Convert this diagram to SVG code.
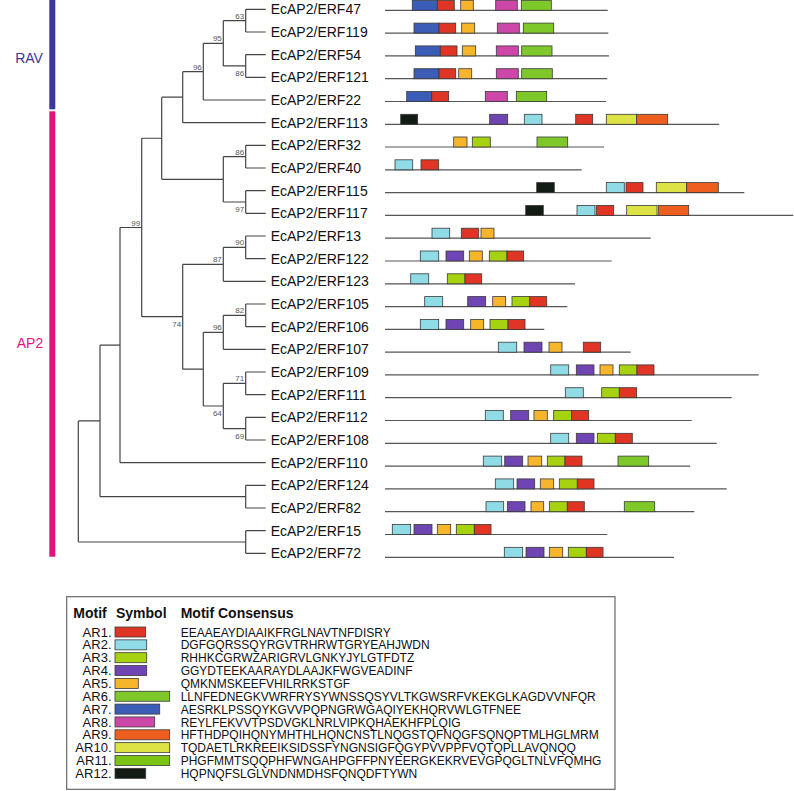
<svg xmlns="http://www.w3.org/2000/svg" width="794" height="791" viewBox="0 0 794 791">
<style>
text{font-family:"Liberation Sans",Arial,sans-serif}
.lb{font-size:14px;fill:#111}
.bs{font-size:8px;fill:#555;text-anchor:end}
.ln{stroke:#555;stroke-width:1.2;fill:none}
.tr{stroke:#444;stroke-width:1.2;fill:none}
rect.m{stroke:#3a3a3a;stroke-width:0.8}
.m1{fill:#e03424}.m2{fill:#8fdbe6}.m3{fill:#a6d20f}.m4{fill:#6e45b3}.m5{fill:#f7b52c}.m6{fill:#7ec82a}
.m7{fill:#3b5db8}.m8{fill:#cc47a8}.m9{fill:#ee5f1f}.m10{fill:#dde344}.m11{fill:#7cc414}.m12{fill:#131c14}
.hd{font-size:14px;font-weight:bold;fill:#111}
.ar{font-size:13px;fill:#111;text-anchor:end}
.cs{font-size:12px;fill:#111}
</style>

<g id="clades">
<rect x="49.3" y="0" width="6" height="109.3" fill="#3d35a0"/>
<rect x="49.3" y="111.3" width="6" height="445.4" fill="#e3127f"/>
<text x="29" y="62.7" font-size="14" fill="#3d35a0" text-anchor="middle">RAV</text>
<text x="30" y="348.3" font-size="14" fill="#e3127f" text-anchor="middle">AP2</text>
</g>

<g id="connectors">
<path class="tr" d="M245.7,9.3V32M245.7,54.6V77.3M245.7,145.3V168M245.7,190.7V213.3M245.7,236V258.7M245.7,304V326.7M245.7,372V394.7M245.7,417.3V440M245.7,485.3V508M245.7,530.7V553.3
M223.3,20.65V65.95M223.3,156.65V202M223.3,247.35V281.3M223.3,315.35V349.3M223.3,383.35V428.65
M203.3,43.3V100M203.3,332.3V406M182.7,71.65V122.7M182.7,264.3V369.15M161.7,97.2V179.3M141.7,138.25V316.7M120,227.5V462.7M100,345.1V496.65M78.3,420.9V542
M245.7,9.3H265.7M245.7,32H265.7M245.7,54.6H265.7M245.7,77.3H265.7M203.3,100H265.7M182.7,122.7H265.7
M245.7,145.3H265.7M245.7,168H265.7M245.7,190.7H265.7M245.7,213.3H265.7M245.7,236H265.7M245.7,258.7H265.7M223.3,281.3H265.7
M245.7,304H265.7M245.7,326.7H265.7M223.3,349.3H265.7M245.7,372H265.7M245.7,394.7H265.7M245.7,417.3H265.7M245.7,440H265.7
M120,462.7H265.7M245.7,485.3H265.7M245.7,508H265.7M245.7,530.7H265.7M245.7,553.3H265.7
M223.3,20.65H245.7M223.3,65.95H245.7M203.3,43.3H223.3M182.7,71.65H203.3M161.7,97.2H182.7
M223.3,156.65H245.7M223.3,202H245.7M161.7,179.3H223.3M141.7,138.25H161.7
M223.3,247.35H245.7M182.7,264.3H223.3M223.3,315.35H245.7M203.3,332.3H223.3
M223.3,383.35H245.7M223.3,428.65H245.7M203.3,406H223.3M182.7,369.15H203.3M141.7,316.7H182.7
M120,227.5H141.7M100,345.1H120M100,496.65H245.7M78.3,420.9H100M78.3,542H245.7"/>
<text class="bs" x="244.2" y="18.6">63</text>
<text class="bs" x="221.8" y="41.3">95</text>
<text class="bs" x="244.2" y="76">86</text>
<text class="bs" x="201.8" y="69.6">96</text>
<text class="bs" x="244.2" y="154.6">86</text>
<text class="bs" x="244.2" y="211.5">97</text>
<text class="bs" x="140.2" y="225.5">99</text>
<text class="bs" x="244.2" y="245.3">90</text>
<text class="bs" x="221.8" y="262.3">87</text>
<text class="bs" x="244.2" y="313.3">82</text>
<text class="bs" x="221.8" y="330.3">96</text>
<text class="bs" x="181.2" y="326.7">74</text>
<text class="bs" x="244.2" y="381.3">71</text>
<text class="bs" x="221.8" y="416">64</text>
<text class="bs" x="244.2" y="438.7">69</text>
</g>

<g id="erf47"><text class="lb" x="270.7" y="14.3">EcAP2/ERF47</text><path class="ln" d="M385,10.3H607.7"/>
<rect class="m m7" x="412.3" y="0.3" width="25" height="10"/><rect class="m m1" x="437.3" y="0.3" width="17" height="10"/><rect class="m m5" x="460.7" y="0.3" width="12.6" height="10"/><rect class="m m8" x="495.7" y="0.3" width="21.6" height="10"/><rect class="m m6" x="521.3" y="0.3" width="30" height="10"/></g>
<g id="erf119"><text class="lb" x="270.7" y="37">EcAP2/ERF119</text><path class="ln" d="M385,33.1H608.3"/>
<rect class="m m7" x="414" y="23.1" width="25" height="10"/><rect class="m m1" x="439" y="23.1" width="16.7" height="10"/><rect class="m m5" x="461.7" y="23.1" width="13" height="10"/><rect class="m m8" x="497.3" y="23.1" width="22" height="10"/><rect class="m m6" x="523.3" y="23.1" width="30.4" height="10"/></g>
<g id="erf54"><text class="lb" x="270.7" y="59.6">EcAP2/ERF54</text><path class="ln" d="M385,55.9H609"/>
<rect class="m m7" x="415.3" y="45.9" width="25" height="10"/><rect class="m m1" x="440.3" y="45.9" width="16.7" height="10"/><rect class="m m5" x="462.3" y="45.9" width="13.4" height="10"/><rect class="m m8" x="496.3" y="45.9" width="22" height="10"/><rect class="m m6" x="521.7" y="45.9" width="30.3" height="10"/></g>
<g id="erf121"><text class="lb" x="270.7" y="82.3">EcAP2/ERF121</text><path class="ln" d="M385,78.7H607.3"/>
<rect class="m m7" x="414" y="68.7" width="25" height="10"/><rect class="m m1" x="439" y="68.7" width="16.7" height="10"/><rect class="m m5" x="458.7" y="68.7" width="13" height="10"/><rect class="m m8" x="496.3" y="68.7" width="22" height="10"/><rect class="m m6" x="521.7" y="68.7" width="30.6" height="10"/></g>
<g id="erf22"><text class="lb" x="270.7" y="105">EcAP2/ERF22</text><path class="ln" d="M385,101.5H606"/>
<rect class="m m7" x="406.7" y="91.5" width="25" height="10"/><rect class="m m1" x="431.7" y="91.5" width="17" height="10"/><rect class="m m8" x="485.3" y="91.5" width="22" height="10"/><rect class="m m6" x="516.3" y="91.5" width="30.4" height="10"/></g>
<g id="erf113"><text class="lb" x="270.7" y="127.7">EcAP2/ERF113</text><path class="ln" d="M385,124.3H719.3"/>
<rect class="m m12" x="400.7" y="114.3" width="17" height="10"/><rect class="m m4" x="489.7" y="114.3" width="18" height="10"/><rect class="m m2" x="524.3" y="114.3" width="17.7" height="10"/><rect class="m m1" x="575.7" y="114.3" width="17" height="10"/><rect class="m m10" x="606.3" y="114.3" width="30.4" height="10"/><rect class="m m9" x="636.7" y="114.3" width="31" height="10"/></g>
<g id="erf32"><text class="lb" x="270.7" y="150.3">EcAP2/ERF32</text><path class="ln" d="M385,147H604"/>
<rect class="m m5" x="453.7" y="137" width="13.3" height="10"/><rect class="m m3" x="472.3" y="137" width="18" height="10"/><rect class="m m6" x="537" y="137" width="30.7" height="10"/></g>
<g id="erf40"><text class="lb" x="270.7" y="173">EcAP2/ERF40</text><path class="ln" d="M385,169.8H581.7"/>
<rect class="m m2" x="395" y="159.8" width="17.7" height="10"/><rect class="m m1" x="421" y="159.8" width="17.7" height="10"/></g>
<g id="erf115"><text class="lb" x="270.7" y="195.7">EcAP2/ERF115</text><path class="ln" d="M385,192.6H744.3"/>
<rect class="m m12" x="536.7" y="182.6" width="17.6" height="10"/><rect class="m m2" x="606.3" y="182.6" width="18" height="10"/><rect class="m m1" x="626" y="182.6" width="17" height="10"/><rect class="m m10" x="656.3" y="182.6" width="30.4" height="10"/><rect class="m m9" x="686.7" y="182.6" width="31.6" height="10"/></g>
<g id="erf117"><text class="lb" x="270.7" y="218.3">EcAP2/ERF117</text><path class="ln" d="M385,215.4H793.3"/>
<rect class="m m12" x="525.7" y="205.4" width="17.6" height="10"/><rect class="m m2" x="577" y="205.4" width="18" height="10"/><rect class="m m1" x="596.3" y="205.4" width="17.4" height="10"/><rect class="m m10" x="626.7" y="205.4" width="30.3" height="10"/><rect class="m m9" x="658.3" y="205.4" width="30.4" height="10"/></g>
<g id="erf13"><text class="lb" x="270.7" y="241">EcAP2/ERF13</text><path class="ln" d="M385,238.2H650.7"/>
<rect class="m m2" x="432" y="228.2" width="17.7" height="10"/><rect class="m m1" x="461.3" y="228.2" width="17.4" height="10"/><rect class="m m5" x="481" y="228.2" width="13" height="10"/></g>
<g id="erf122"><text class="lb" x="270.7" y="263.7">EcAP2/ERF122</text><path class="ln" d="M385,261H611.7"/>
<rect class="m m2" x="420.3" y="251" width="18.4" height="10"/><rect class="m m4" x="446" y="251" width="17.7" height="10"/><rect class="m m5" x="469.3" y="251" width="13" height="10"/><rect class="m m3" x="489.3" y="251" width="17.7" height="10"/><rect class="m m1" x="507" y="251" width="16.7" height="10"/></g>
<g id="erf123"><text class="lb" x="270.7" y="286.3">EcAP2/ERF123</text><path class="ln" d="M385,283.8H575"/>
<rect class="m m2" x="410.7" y="273.8" width="18" height="10"/><rect class="m m3" x="447.3" y="273.8" width="17.7" height="10"/><rect class="m m1" x="465" y="273.8" width="16.7" height="10"/></g>
<g id="erf105"><text class="lb" x="270.7" y="309">EcAP2/ERF105</text><path class="ln" d="M385,306.6H567.3"/>
<rect class="m m2" x="424.7" y="296.6" width="18" height="10"/><rect class="m m4" x="467.7" y="296.6" width="18" height="10"/><rect class="m m5" x="492.7" y="296.6" width="13" height="10"/><rect class="m m3" x="512" y="296.6" width="17.7" height="10"/><rect class="m m1" x="529.7" y="296.6" width="17" height="10"/></g>
<g id="erf106"><text class="lb" x="270.7" y="331.7">EcAP2/ERF106</text><path class="ln" d="M385,329.4H544.3"/>
<rect class="m m2" x="420.3" y="319.4" width="18.4" height="10"/><rect class="m m4" x="446" y="319.4" width="17.7" height="10"/><rect class="m m5" x="470.7" y="319.4" width="13" height="10"/><rect class="m m3" x="490" y="319.4" width="18" height="10"/><rect class="m m1" x="508" y="319.4" width="17" height="10"/></g>
<g id="erf107"><text class="lb" x="270.7" y="354.3">EcAP2/ERF107</text><path class="ln" d="M385,352.2H630.7"/>
<rect class="m m2" x="498.3" y="342.2" width="18.4" height="10"/><rect class="m m4" x="524" y="342.2" width="18" height="10"/><rect class="m m5" x="549" y="342.2" width="13" height="10"/><rect class="m m1" x="583.3" y="342.2" width="17.4" height="10"/></g>
<g id="erf109"><text class="lb" x="270.7" y="377">EcAP2/ERF109</text><path class="ln" d="M385,374.9H758.7"/>
<rect class="m m2" x="550.7" y="364.9" width="18" height="10"/><rect class="m m4" x="576.3" y="364.9" width="17.7" height="10"/><rect class="m m5" x="600" y="364.9" width="13" height="10"/><rect class="m m3" x="619.3" y="364.9" width="17.7" height="10"/><rect class="m m1" x="637" y="364.9" width="17" height="10"/></g>
<g id="erf111"><text class="lb" x="270.7" y="399.7">EcAP2/ERF111</text><path class="ln" d="M385,397.7H731.7"/>
<rect class="m m2" x="565.3" y="387.7" width="18" height="10"/><rect class="m m3" x="601.7" y="387.7" width="17.6" height="10"/><rect class="m m1" x="619.3" y="387.7" width="17.4" height="10"/></g>
<g id="erf112"><text class="lb" x="270.7" y="422.3">EcAP2/ERF112</text><path class="ln" d="M385,420.5H691.7"/>
<rect class="m m2" x="485.3" y="410.5" width="18" height="10"/><rect class="m m4" x="510.7" y="410.5" width="18" height="10"/><rect class="m m5" x="534" y="410.5" width="13.3" height="10"/><rect class="m m3" x="553.7" y="410.5" width="18" height="10"/><rect class="m m1" x="571.7" y="410.5" width="17" height="10"/></g>
<g id="erf108"><text class="lb" x="270.7" y="445">EcAP2/ERF108</text><path class="ln" d="M385,443.3H716.7"/>
<rect class="m m2" x="550.7" y="433.3" width="18" height="10"/><rect class="m m4" x="576.3" y="433.3" width="17.7" height="10"/><rect class="m m3" x="597.3" y="433.3" width="18" height="10"/><rect class="m m1" x="615.3" y="433.3" width="17" height="10"/></g>
<g id="erf110"><text class="lb" x="270.7" y="467.7">EcAP2/ERF110</text><path class="ln" d="M385,466.1H690"/>
<rect class="m m2" x="483.3" y="456.1" width="18.4" height="10"/><rect class="m m4" x="504.7" y="456.1" width="18" height="10"/><rect class="m m5" x="528" y="456.1" width="13.7" height="10"/><rect class="m m3" x="547.3" y="456.1" width="17.7" height="10"/><rect class="m m1" x="565" y="456.1" width="17" height="10"/><rect class="m m6" x="618" y="456.1" width="30.7" height="10"/></g>
<g id="erf124"><text class="lb" x="270.7" y="490.3">EcAP2/ERF124</text><path class="ln" d="M385,488.9H726.7"/>
<rect class="m m2" x="495.3" y="478.9" width="18.4" height="10"/><rect class="m m4" x="517" y="478.9" width="17.7" height="10"/><rect class="m m5" x="540.3" y="478.9" width="13.4" height="10"/><rect class="m m3" x="559.3" y="478.9" width="18" height="10"/><rect class="m m1" x="577.3" y="478.9" width="16.7" height="10"/></g>
<g id="erf82"><text class="lb" x="270.7" y="513">EcAP2/ERF82</text><path class="ln" d="M385,511.7H694.3"/>
<rect class="m m2" x="486" y="501.7" width="17.7" height="10"/><rect class="m m4" x="507.3" y="501.7" width="17.7" height="10"/><rect class="m m5" x="531" y="501.7" width="12.7" height="10"/><rect class="m m3" x="549.3" y="501.7" width="18" height="10"/><rect class="m m1" x="567.3" y="501.7" width="17" height="10"/><rect class="m m6" x="624.3" y="501.7" width="30.4" height="10"/></g>
<g id="erf15"><text class="lb" x="270.7" y="535.7">EcAP2/ERF15</text><path class="ln" d="M385,534.5H607.3"/>
<rect class="m m2" x="392.3" y="524.5" width="18.4" height="10"/><rect class="m m4" x="414" y="524.5" width="18" height="10"/><rect class="m m5" x="437.3" y="524.5" width="13.4" height="10"/><rect class="m m3" x="456.3" y="524.5" width="18" height="10"/><rect class="m m1" x="474.3" y="524.5" width="16.7" height="10"/></g>
<g id="erf72"><text class="lb" x="270.7" y="558.3">EcAP2/ERF72</text><path class="ln" d="M385,557.3H674"/>
<rect class="m m2" x="504.3" y="547.3" width="18.4" height="10"/><rect class="m m4" x="526" y="547.3" width="18" height="10"/><rect class="m m5" x="549.3" y="547.3" width="13.4" height="10"/><rect class="m m3" x="568.3" y="547.3" width="18" height="10"/><rect class="m m1" x="586.3" y="547.3" width="16.7" height="10"/></g>

<g id="legend">
<rect x="66.7" y="596.7" width="548.3" height="192.6" fill="none" stroke="#666" stroke-width="1.2"/>
<text class="hd" x="73.3" y="618.3">Motif</text>
<text class="hd" x="116" y="618.3">Symbol</text>
<text class="hd" x="180.7" y="618.3">Motif Consensus</text>
<text class="ar" x="111.5" y="636.6">AR1.</text><rect class="m m1" x="115" y="627" width="30.7" height="10"/><text class="cs" x="180.7" y="636.6">EEAAEAYDIAAIKFRGLNAVTNFDISRY</text>
<text class="ar" x="111.5" y="649.45">AR2.</text><rect class="m m2" x="115" y="639.85" width="31.7" height="10"/><text class="cs" x="180.7" y="649.45">DGFGQRSSQYRGVTRHRWTGRYEAHJWDN</text>
<text class="ar" x="111.5" y="662.3">AR3.</text><rect class="m m3" x="115" y="652.7" width="31.7" height="10"/><text class="cs" x="180.7" y="662.3">RHHKCGRWZARIGRVLGNKYJYLGTFDTZ</text>
<text class="ar" x="111.5" y="675.15">AR4.</text><rect class="m m4" x="115" y="665.55" width="31.7" height="10"/><text class="cs" x="180.7" y="675.15">GGYDTEEKAARAYDLAAJKFWGVEADINF</text>
<text class="ar" x="111.5" y="688">AR5.</text><rect class="m m5" x="115" y="678.4" width="23.3" height="10"/><text class="cs" x="180.7" y="688">QMKNMSKEEFVHILRRKSTGF</text>
<text class="ar" x="111.5" y="700.85">AR6.</text><rect class="m m6" x="115" y="691.25" width="54.7" height="10"/><text class="cs" x="180.7" y="700.85">LLNFEDNEGKVWRFRYSYWNSSQSYVLTKGWSRFVKEKGLKAGDVVNFQR</text>
<text class="ar" x="111.5" y="713.7">AR7.</text><rect class="m m7" x="115" y="704.1" width="44.7" height="10"/><text class="cs" x="180.7" y="713.7">AESRKLPSSQYKGVVPQPNGRWGAQIYEKHQRVWLGTFNEE</text>
<text class="ar" x="111.5" y="726.55">AR8.</text><rect class="m m8" x="115" y="716.95" width="39.7" height="10"/><text class="cs" x="180.7" y="726.55">REYLFEKVVTPSDVGKLNRLVIPKQHAEKHFPLQIG</text>
<text class="ar" x="111.5" y="739.4">AR9.</text><rect class="m m9" x="115" y="729.8" width="54.7" height="10"/><text class="cs" x="180.7" y="739.4">HFTHDPQIHQNYMHTHLHQNCNSTLNQGSTQFNQGFSQNQPTMLHGLMRM</text>
<text class="ar" x="111.5" y="752.25">AR10.</text><rect class="m m10" x="115" y="742.65" width="54.7" height="10"/><text class="cs" x="180.7" y="752.25">TQDAETLRKREEIKSIDSSFYNGNSIGFQGYPVVPPFVQTQPLLAVQNQQ</text>
<text class="ar" x="111.5" y="765.1">AR11.</text><rect class="m m11" x="115" y="755.5" width="54.7" height="10"/><text class="cs" x="180.7" y="765.1">PHGFMMTSQQPHFWNGAHPGFFPNYEERGKEKRVEVGPQGLTNLVFQMHG</text>
<text class="ar" x="111.5" y="777.95">AR12.</text><rect class="m m12" x="115" y="768.35" width="30.7" height="10"/><text class="cs" x="180.7" y="777.95">HQPNQFSLGLVNDNMDHSFQNQDFTYWN</text>
</g>
</svg>
